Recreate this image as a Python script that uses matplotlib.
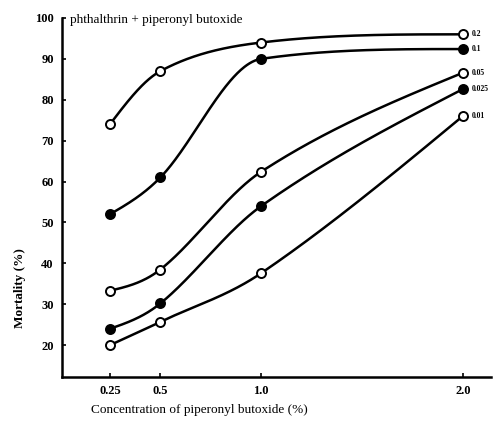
import numpy as np
import matplotlib
matplotlib.use("Agg")
import matplotlib.pyplot as plt

conc = [0.25, 0.5, 1.0, 2.0]
xtick_labels = ["0.25", "0.5", "1.0", "2.0"]
yticks = [20, 30, 40, 50, 60, 70, 80, 90, 100]

series_labels = ["0.2", "0.1", "0.05", "0.025", "0.01"]
s_02 = [74, 87, 94, 96]
s_01 = [52, 61, 90, 92.4]
s_005 = [33.3, 38.5, 62.4, 86.6]
s_0025 = [24, 30.2, 54, 82.6]
s_001 = [20, 25.7, 37.6, 76]
series_vals = [s_02, s_01, s_005, s_0025, s_001]
filled = [False, True, False, True, False]


def smooth(x, y, xs):
    """Cardinal Hermite spline with overshoot limiting."""
    x = np.asarray(x, float); y = np.asarray(y, float)
    h = np.diff(x); d = np.diff(y) / h
    n = len(x); m = np.zeros(n)
    for k in range(1, n - 1):
        c = (y[k + 1] - y[k - 1]) / (x[k + 1] - x[k - 1])
        lim = 3 * min(abs(d[k - 1]), abs(d[k]))
        m[k] = np.sign(c) * min(abs(c), lim)
    m[0] = (3 * d[0] - m[1]) / 2
    m[-1] = (3 * d[-1] - m[-2]) / 2
    out = np.empty_like(xs)
    for i, xv in enumerate(xs):
        k = min(max(np.searchsorted(x, xv) - 1, 0), n - 2)
        t = (xv - x[k]) / h[k]
        h00 = 2*t**3 - 3*t**2 + 1; h10 = t**3 - 2*t**2 + t
        h01 = -2*t**3 + 3*t**2; h11 = t**3 - t**2
        out[i] = h00*y[k] + h10*h[k]*m[k] + h01*y[k+1] + h11*h[k]*m[k+1]
    return out


fig = plt.figure(figsize=(4.93, 4.28), dpi=100)
ax = fig.add_axes([0.126, 0.119, 0.87, 0.839])
serif = ["Liberation Serif", "DejaVu Serif"]

xs = np.linspace(conc[0], conc[-1], 400)
for lab, vals, f in zip(series_labels, series_vals, filled):
    ax.plot(xs, smooth(conc, vals, xs), color="black", lw=1.8, zorder=2)
    ax.plot(conc, vals, "o", ms=6.5, mec="black", mew=1.4,
            mfc="black" if f else "white", zorder=3)
    ax.text(2.045, vals[-1], lab, fontsize=5.5, fontweight="bold",
            family=serif, va="center", ha="left")

ax.set_xlim(0.013, 2.14)
ax.set_ylim(12.2, 100)
ax.set_xticks(conc)
ax.set_xticklabels(xtick_labels)
ax.set_yticks(yticks)
for s in ["top", "right"]:
    ax.spines[s].set_visible(False)
for s in ["left", "bottom"]:
    ax.spines[s].set_linewidth(1.8)
ax.tick_params(direction="in", length=3, width=1.2, labelsize=9, pad=6)
for t in ax.get_xticklabels() + ax.get_yticklabels():
    t.set_family(serif); t.set_fontweight("bold")

ax.text(0.05, 99.5, "phthalthrin + piperonyl butoxide", family=serif,
        fontsize=9.5, va="center", ha="left")
fig.text(0.405, 1 - 410/428, "Concentration of piperonyl butoxide (%)",
         family=serif, fontsize=9.5, ha="center", va="center")
fig.text(0.04, 1 - 288/428, "Mortality (%)", family=serif, fontsize=9.5,
         fontweight="bold", rotation=90, ha="center", va="center")

fig.savefig("out.png", dpi=100)
